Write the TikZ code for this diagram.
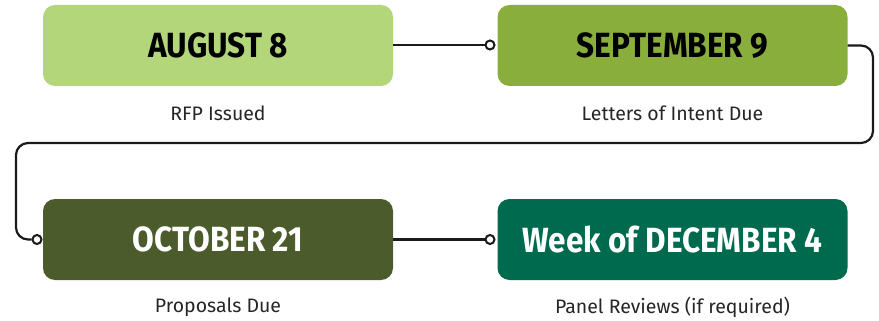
\documentclass[tikz,border=0pt]{standalone}
\usepackage{fontspec}
\setmainfont{Fira Sans}
\newfontfamily\headfont[FakeStretch=0.9]{Fira Sans}
\definecolor{cA}{HTML}{B3D67A}
\definecolor{cB}{HTML}{8AAE3C}
\definecolor{cC}{HTML}{4B5B2B}
\definecolor{cD}{HTML}{006A4E}
\definecolor{ln}{HTML}{1A1A1A}
\begin{document}
\begin{tikzpicture}[x=1pt,y=-1pt,
  datebox/.style={rounded corners=12pt, minimum width=350pt, minimum height=81pt, inner sep=0pt,
    font=\headfont\bfseries\fontsize{35}{38}\selectfont},
  caption/.style={font=\fontsize{19.5}{22}\selectfont, text=black!85},
  conn/.style={draw=ln, line width=2.2pt, rounded corners=12pt},
  endpt/.style={circle, draw=ln, fill=white, line width=2pt, minimum size=9pt, inner sep=0pt}]
\useasboundingbox (0,0) rectangle (879,321);
\node[datebox, fill=cA, text=black] (a) at (218,45.5) {AUGUST 8};
\node[datebox, fill=cB, text=black] (b) at (672.5,45.5) {SEPTEMBER 9};
\node[datebox, fill=cC, text=white] (c) at (218,239.5) {OCTOBER 21};
\node[datebox, fill=cD, text=white] (d) at (672.5,239.5) {Week of DECEMBER 4};
\node[caption] (la) at (218,113) {RFP Issued};
\node[caption] (lb) at (672.5,113) {Letters of Intent Due};
\node[caption] (lc) at (218,307) {Proposals Due};
\node[caption] (ld) at (672.5,307) {Panel Reviews (if required)};
\node[endpt] (pb) at (490,45) {};
\node[endpt] (pc) at (37,239.5) {};
\node[endpt] (pd) at (490,239.5) {};
\draw[conn] (a.east |- pb) -- (pb.west);
\draw[conn] (b.east) -- (873,45.5) -- (873,143) -- (16,143) -- (16,239.5) -- (pc.west);
\draw[conn] (c.east |- pd) -- (pd.west);
\end{tikzpicture}
\end{document}
